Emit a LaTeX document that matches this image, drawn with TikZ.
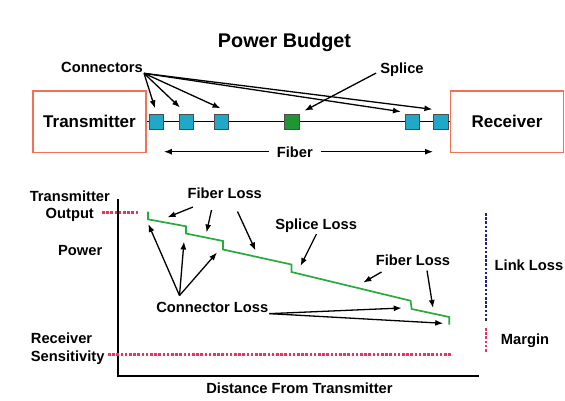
\documentclass[tikz,border=0pt]{standalone}
\usepackage{fontspec}
\setmainfont{Liberation Sans}
\usetikzlibrary{arrows.meta,positioning,calc}

\definecolor{boxred}{RGB}{244,112,84}
\definecolor{conblue}{RGB}{32,168,200}
\definecolor{splgreen}{RGB}{30,150,50}
\definecolor{tracegreen}{RGB}{40,170,60}
\definecolor{dotred}{RGB}{242,48,92}
\definecolor{dotblue}{RGB}{30,30,150}

\tikzset{
    unitbox/.style={draw=boxred,line width=1.6pt,minimum width=113pt,minimum height=61.5pt,
        font=\bfseries\fontsize{17}{20}\selectfont},
    connbox/.style={draw=black!70,fill=conblue,line width=0.8pt,minimum width=14.5pt,
        minimum height=15.5pt,inner sep=0pt},
    splbox/.style={connbox,fill=splgreen},
    lbl/.style={font=\bfseries\fontsize{14.7}{17.4}\selectfont,inner sep=1pt,text depth=0pt},
    ptr/.style={-{Latex[length=8pt,width=6pt]},line width=1.3pt},
    reddots/.style={dotred,line width=2.6pt,dash pattern=on 2.6pt off 1.6pt},
    bluedots/.style={dotblue,line width=2.6pt,dash pattern=on 2.6pt off 1.6pt},
    trace/.style={tracegreen,line width=1.7pt}
}

\begin{document}
\begin{tikzpicture}[x=1pt,y=-1pt]
    \useasboundingbox (0,0) rectangle (565,400);

    % link
    \node[lbl,font=\bfseries\fontsize{19.8}{22}\selectfont] (title) at (284.5,40) {Power Budget};
    \node[unitbox] (tx) at (89.5,121.7) {Transmitter};
    \node[unitbox] (rx) at (507,121.7) {Receiver};
    \node[connbox] (c1) at (156.2,121.7) {};
    \node[connbox] (c2) at (186.3,121.7) {};
    \node[connbox] (c3) at (221.6,121.7) {};
    \node[splbox] (sp) at (292,121.7) {};
    \node[connbox] (c4) at (412.6,121.7) {};
    \node[connbox] (c5) at (440.7,121.7) {};
    \draw[line width=1.1pt] (tx) -- (c1) -- (c2) -- (c3) -- (sp) -- (c4) -- (c5) -- (rx);

    \node[lbl] (conlab) at (102,67) {Connectors};
    \node[lbl] (splab) at (402,68) {Splice};
    \node[lbl,inner xsep=8pt] (fib) at (294.8,151.7) {Fiber};
    \foreach \n/\x/\y in {1/155/108.3,2/180/107.5,3/220.5/108.3,4/401/111.7,5/432.4/109.3}
        \coordinate (ct\n) at (\x,\y);
    \foreach \n in {1,...,5}
        \draw[ptr] (conlab.south east) -- (ct\n);
    \coordinate (spt) at (304.5,110.7);
    \draw[ptr] ([xshift=-3pt,yshift=1.5pt]splab.south west) -- (spt);
    \draw[ptr] (fib.west) -- (fib.west -| c1.east);
    \draw[ptr] (fib.east) -- (fib.east -| c5.west);

    % graph
    \coordinate (ytop) at (118,199);
    \coordinate (orig) at (118,376);
    \coordinate (xend) at (478.6,376);
    \draw[line width=1.4pt] (ytop) -- (orig) -- (xend);

    \node[lbl,align=center] (txout) at (69.8,204.6) {Transmitter\\Output};
    \node[lbl] (power) at (80.2,250) {Power};
    \node[lbl,align=left,anchor=west] (rxsens) at (29.7,347.3) {Receiver\\[1pt]Sensitivity};
    \node[lbl] (dist) at (299.5,388.5) {Distance From Transmitter};
    \node[lbl] (link) at (529,265.5) {Link Loss};
    \node[lbl] (marg) at (525,339.5) {Margin};
    \node[lbl] (fl1) at (224.7,193.5) {Fiber Loss};
    \node[lbl] (spl) at (316.2,224) {Splice Loss};
    \node[lbl] (fl2) at (413,260) {Fiber Loss};
    \node[lbl] (cl) at (212.3,307.3) {Connector Loss};

    \draw[reddots] (102,212.7) -- (138.5,212.7);
    \draw[reddots] (108,354.3) -- (451.5,354.3);
    \draw[bluedots] (486,213) -- (486,322);
    \draw[reddots] (486,328) -- (486,352);

    \draw[trace] (148,211.7) -- (148,219.3) -- (186,226.3) -- (186,233.5) -- (223,241)
        -- (223,249.5) -- (291.5,264.5) -- (291.5,272) -- (410.5,300.7) -- (411.7,309)
        -- (449.2,317) -- (449.2,324.5);

    % loss pointers
    \coordinate (fa1) at (193,207);      \coordinate (fb1) at (167.5,217.3);
    \coordinate (fa2) at (211.5,210);    \coordinate (fb2) at (206.5,232.5);
    \coordinate (fa3) at (237.5,211.5);  \coordinate (fb3) at (255.5,250.5);
    \coordinate (sa) at (316.5,234);     \coordinate (sb) at (300.5,266);
    \coordinate (fa4) at (381.5,272);    \coordinate (fb4) at (363.3,282.5);
    \coordinate (fa5) at (427,270.5);    \coordinate (fb5) at (433,308);
    \foreach \n in {1,...,5}
        \draw[ptr] (fa\n) -- (fb\n);
    \draw[ptr] (sa) -- (sb);

    \coordinate (cfan) at (179.5,295.5);
    \coordinate (cb1) at (148.3,224);
    \coordinate (cb2) at (184,241.5);
    \coordinate (cb3) at (217,252.5);
    \coordinate (cb4) at (401.7,308);
    \coordinate (cb5) at (443.2,323.3);
    \foreach \n in {1,2,3}
        \draw[ptr] (cfan) -- (cb\n);
    \foreach \n in {4,5}
        \draw[ptr] (cl.south east) -- (cb\n);
\end{tikzpicture}
\end{document}
